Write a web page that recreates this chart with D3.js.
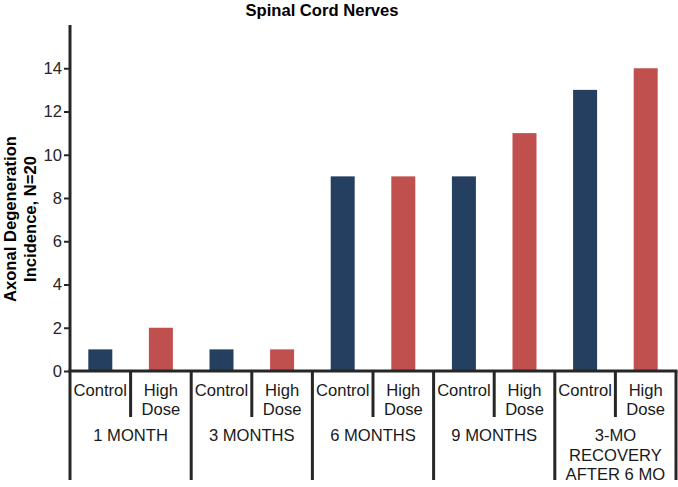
<!DOCTYPE html>
<html><head><meta charset="utf-8">
<script src="https://cdn.jsdelivr.net/npm/d3@7"></script>
<style>
html,body{margin:0;padding:0;background:#fff;}
text{font-family:"Liberation Sans",Arial,Helvetica,sans-serif;}
</style></head>
<body>
<svg id="chart" width="678" height="487"></svg>
<script>
const title = "Spinal Cord Nerves";
const yLabelLines = ["Axonal Degeneration", "Incidence, N=20"];
const groups = ["1 MONTH", "3 MONTHS", "6 MONTHS", "9 MONTHS", "3-MO|RECOVERY|AFTER 6 MO"];
const subgroups = ["Control", "High Dose"];
const controlValues = [1, 1, 9, 9, 13];
const highDoseValues = [2, 1, 9, 11, 14];
const yTicks = [0, 2, 4, 6, 8, 10, 12, 14];
const colors = {"Control": "#243F60", "High Dose": "#C0504D"};

(function () {
const svg = d3.select("#chart");
const axisColor = "#262626";
const fs = 16.6;
const mLeft = 70, mRight = 676, mTop = 25, mBase = 371;

const x0 = d3.scaleBand().domain(groups).range([mLeft, mRight]).padding(0);
const x1 = d3.scaleBand().domain(subgroups).range([0, x0.bandwidth()]).paddingInner(0.604).paddingOuter(0.302);
const y = d3.scaleLinear().domain([0, 16]).range([mBase, mTop]);

const data = groups.map((g, i) => ({group: g, values: [
  {key: "Control", value: controlValues[i]},
  {key: "High Dose", value: highDoseValues[i]}
]}));

// bars
const gg = svg.append("g").selectAll("g").data(data).join("g")
  .attr("transform", d => `translate(${x0(d.group)},0)`);
gg.selectAll("rect").data(d => d.values).join("rect")
  .attr("x", d => x1(d.key))
  .attr("width", x1.bandwidth())
  .attr("y", d => y(d.value))
  .attr("height", d => y(0) - y(d.value))
  .attr("fill", d => colors[d.key]);

// y axis
const yAxis = d3.axisLeft(y).tickValues(yTicks).tickSize(6).tickSizeOuter(0).tickPadding(2).tickFormat(d3.format("d"));
const ya = svg.append("g").attr("transform", `translate(${mLeft},0)`).call(yAxis);
ya.select(".domain").remove();
ya.selectAll(".tick line").attr("stroke", axisColor).attr("stroke-width", 2);
ya.selectAll(".tick text").attr("font-size", fs).attr("fill", axisColor)
  .attr("font-family", "Liberation Sans, Arial, sans-serif");

// axis lines
const lines = svg.append("g").attr("stroke", axisColor).attr("stroke-width", 3).attr("fill", "none");
lines.append("line").attr("x1", mLeft).attr("x2", mLeft).attr("y1", y(16)).attr("y2", 480);
lines.append("line").attr("x1", mLeft - 1.5).attr("x2", mRight + 1.5).attr("y1", mBase).attr("y2", mBase);
groups.forEach((g, i) => {
  lines.append("line").attr("x1", x0(g) + x0.bandwidth()).attr("x2", x0(g) + x0.bandwidth())
    .attr("y1", mBase).attr("y2", 480);
  lines.append("line").attr("x1", x0(g) + x0.bandwidth() / 2).attr("x2", x0(g) + x0.bandwidth() / 2)
    .attr("y1", mBase).attr("y2", 417);
});

// x labels
const lab = svg.append("g").attr("font-size", fs).attr("fill", "#1a1a1a").attr("text-anchor", "middle");
groups.forEach(g => {
  subgroups.forEach(s => {
    const cx = x0(g) + x1(s) + x1.bandwidth() / 2;
    const parts = s === "High Dose" ? ["High", "Dose"] : [s];
    parts.forEach((p, j) => {
      lab.append("text").attr("x", cx).attr("y", 396 + j * 19).text(p);
    });
  });
  const cx = x0(g) + x0.bandwidth() / 2;
  g.split("|").forEach((p, j) => {
    lab.append("text").attr("x", cx).attr("y", 441 + j * 19.5).text(p);
  });
});

// title
svg.append("text").attr("x", 322).attr("y", 16).attr("text-anchor", "middle")
  .attr("font-size", fs).attr("font-weight", "bold").attr("fill", "#000").text(title);

// y label
const yl = svg.append("text").attr("transform", "translate(0,219) rotate(-90)")
  .attr("text-anchor", "middle").attr("font-size", fs).attr("font-weight", "bold").attr("fill", "#000");
yLabelLines.forEach((l, j) => {
  yl.append("tspan").attr("x", 0).attr("y", 16 + j * 20).text(l);
});
})();
</script>
</body></html>
